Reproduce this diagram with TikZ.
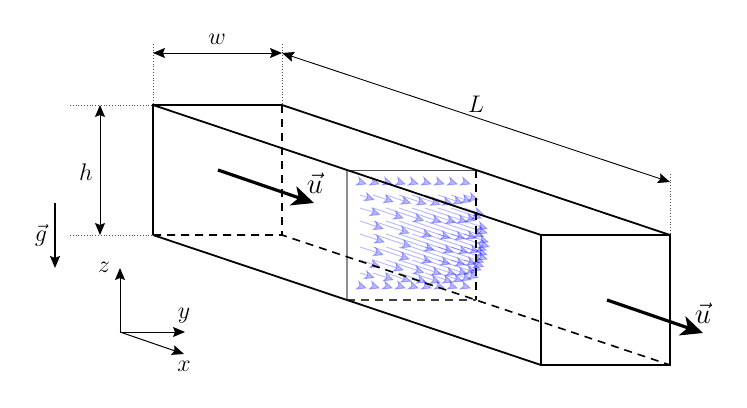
\documentclass[tikz,border=0pt]{standalone}
\usetikzlibrary{arrows.meta}
\tikzset{
    duct/.style={line width=.9pt},
    hidden/.style={line width=.8pt, dashed, dash pattern=on 4pt off 3pt},
    dim/.style={line width=.45pt, {Stealth[length=6pt,width=5pt,inset=1pt]}-{Stealth[length=6pt,width=5pt,inset=1pt]}},
    guide/.style={line width=.4pt, densely dotted, black!70},
    axis/.style={line width=.5pt, -{Stealth[length=6pt,width=5pt,inset=1pt]}},
    flow/.style={line width=1.6pt, -{Stealth[length=11pt,width=10pt,inset=3pt]}},
    field/.style={blue, opacity=.28, line width=.45pt, -{Stealth[length=5.5pt,width=5pt,inset=1.5pt]}},
    dimlabel/.style={font=\large},
}
\begin{document}
\begin{tikzpicture}[x=.5pt, y=-.5pt]
\useasboundingbox (0,0) rectangle (747,407);
% corners of the duct
\coordinate (tl) at (153,105);
\coordinate (tr) at (282,105);
\coordinate (bl) at (153,235);
\coordinate (br) at (282,235);
\coordinate (ftl) at (541,235);
\coordinate (ftr) at (670,235);
\coordinate (fbl) at (541,365);
\coordinate (fbr) at (670,365);
% mid section
\coordinate (mtl) at (347,170);
\coordinate (mtr) at (476,170);
\coordinate (mbl) at (347,300);
\coordinate (mbr) at (476,300);
% velocity field
\foreach \i in {0,...,8} {
    \foreach \j in {0,...,8} {
        \pgfmathsetmacro{\fz}{1-(\i/4-1)^2}
        \pgfmathsetmacro{\fy}{1-(2*(\j+1)/10-1)^2}
        \pgfmathsetmacro{\du}{7+50*\fz*\fy}
        \draw[field] (360+13*\j,182+13*\i) -- ++(\du,0.335*\du);
    }
}
\draw[line width=.7pt, black!45] (mbl) -- (mtl);
\draw[line width=.5pt, black!70] (mtl) -- (mtr);
\draw[line width=.6pt, dashed, dash pattern=on 4pt off 3pt] (mtr) -- (mbr);
\draw[line width=.6pt, black!75, dashed, dash pattern=on 4pt off 3pt] (mbl) -- (mbr);
% duct
\draw[hidden] (tr) -- (br);
\draw[hidden] (bl) -- (br) -- (fbr);
\draw[duct] (tl) -- (tr) -- (ftr);
\draw[duct] (bl) -- (tl) -- (ftl);
\draw[duct] (bl) -- (fbl);
\draw[duct] (ftl) -- (ftr) -- (fbr) -- (fbl) -- cycle;
% dimensions
\coordinate (wl) at (153,53);
\coordinate (wr) at (282,53);
\coordinate (hb) at (100,235);
\coordinate (ht) at (100,105);
\coordinate (le) at (670,182);
\draw[guide] (153,44) -- (tl);
\draw[guide] (282,44) -- (tr);
\draw[guide] (70,105) -- (tl);
\draw[guide] (70,235) -- (bl);
\draw[guide] (670,174) -- (ftr);
\draw[dim] (wl) -- (wr);
\draw[dim] (ht) -- (hb);
\draw[dim] (wr) -- (le);
\node[dimlabel] (wlabel) at (217,39) {$w$};
\node[dimlabel] (hlabel) at (86,172) {$h$};
\node[dimlabel] (llabel) at (476,104) {$L$};
% flow
\coordinate (uas) at (218,170);
\coordinate (uae) at (314,203);
\coordinate (ubs) at (607,300);
\coordinate (ube) at (703,333);
\draw[flow] (uas) -- (uae);
\draw[flow] (ubs) -- (ube);
\node (ualabel) at (315,183) {\Large $\vec{u}$};
\node (ublabel) at (703,313) {\Large $\vec{u}$};
% gravity
\coordinate (gs) at (55,203);
\coordinate (ge) at (55,268);
\draw[axis, line width=.8pt] (gs) -- (ge);
\node[dimlabel] (glabel) at (41,235) {$\vec{g}$};
% axes
\coordinate (o) at (120,332);
\coordinate (oz) at (120,268);
\coordinate (oy) at (185,332);
\coordinate (ox) at (184,354);
\draw[axis] (o) -- (oz);
\draw[axis] (o) -- (oy);
\draw[axis] (o) -- (ox);
\node[dimlabel] (zlabel) at (104,267) {$z$};
\node[dimlabel] (ylabel) at (184,316) {$y$};
\node[dimlabel] (xlabel) at (184,366) {$x$};
\end{tikzpicture}
\end{document}
